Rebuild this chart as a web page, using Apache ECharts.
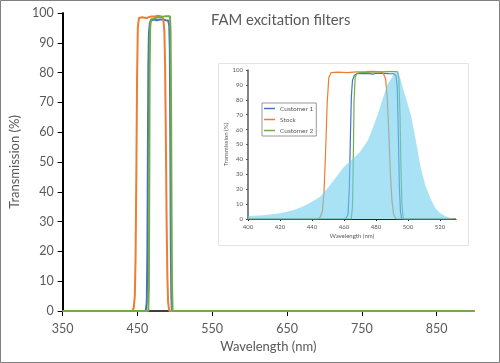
<!DOCTYPE html>
<html><head><meta charset="utf-8">
<script src="https://cdn.jsdelivr.net/npm/echarts@6/dist/echarts.min.js"></script>
<style>html,body{margin:0;padding:0;background:#fff}#c{width:500px;height:363px}</style>
</head><body><div id="c"></div>
<script>
// ---- data ----
const titleText = 'FAM excitation filters';
const seriesNames = ['Customer 1', 'Stock', 'Customer 2'];

const cust1Wl = [350, 461, 462.5, 463.3, 464, 464.6, 465.3, 466.5, 468, 472, 476, 478, 480, 484, 488, 491, 492.5, 493.3, 494, 494.6, 495.3, 496, 900];
const cust1T  = [0,   0,   3,     20,    55,  82,    93,    96.5,  97.5, 97.8, 97.6, 97.2, 97.8, 97.8, 97.6, 97.5, 96,  88,    55,  22,    5,     0,   0];

const stockWl = [350, 443, 445, 446.5, 447.5, 448.5, 449.5, 450.5, 452, 456, 462, 468, 474, 478, 482, 484.5, 486, 487, 488, 489, 490, 491, 492.5, 900];
const stockT  = [0,   0,   1,   5,     18,    45,    78,    95,    98.3, 98.6, 98.3, 98.8, 98.9, 99.1, 98.8, 98, 94, 82, 58, 30, 12, 3, 0, 0];

const cust2Wl = [350, 464.5, 465.3, 465.8, 466.3, 467, 468, 470, 476, 482, 488, 493.5, 494.3, 495, 495.6, 496.2, 497, 900];
const cust2T  = [0,   0,     8,     40,    80,    95,  97.8, 98.3, 98.5, 98.7, 98.9, 98.9, 94, 70, 35, 10, 0, 0];

const famWl  = [400, 410, 420, 425, 430, 435, 440, 445, 450, 455, 460, 465, 470, 475, 478, 481, 484, 487, 490, 492, 493.5, 495, 497, 499, 502, 505, 508, 511, 514, 517, 520, 523, 526, 529];
const famExc = [2,   2.6, 3.8, 5,   6.5, 8.7, 11.5, 15, 21,  28,  35,  40,  45,  53,  61,  70,  80,  90,  95,  99,  99.5,  95,  87,  80,  69,  52,  34,  22,  14,  7.3, 4,   2,   0.8, 0];

const mainXTicks  = [350, 450, 550, 650, 750, 850];
const insetXTicks = [400, 420, 440, 460, 480, 500, 520];

// ---- build ----
const pairs = (xs, ys) => xs.map((x, i) => [x, ys[i]]);
const colors = ['#4472C4', '#ED7D31', '#70AD47'];
const curves = [pairs(cust1Wl, cust1T), pairs(stockWl, stockT), pairs(cust2Wl, cust2T)];
const FONT = 'Lato';
const GREY = '#595959';

const chart = echarts.init(document.getElementById('c'), null, {renderer: 'canvas'});

const series = [];
curves.forEach((d, i) => {
  series.push({
    type: 'line', name: seriesNames[i], xAxisIndex: 0, yAxisIndex: 0, data: d,
    showSymbol: false, symbol: 'none', color: colors[i],
    lineStyle: {width: 2, color: colors[i]}, z: 3, animation: false
  });
});
curves.forEach((d, i) => {
  const inset = [[400, 0]].concat(d.filter(p => p[0] > 400 && p[0] < 530)).concat([[530, 0]]);
  series.push({
    type: 'line', name: seriesNames[i], xAxisIndex: 1, yAxisIndex: 1, data: inset,
    showSymbol: false, symbol: 'none', color: colors[i],
    lineStyle: {width: 1.2, color: colors[i]}, z: 5, animation: false
  });
});
series.push({
  type: 'line', name: 'FAM excitation', xAxisIndex: 1, yAxisIndex: 1,
  data: pairs(famWl, famExc), showSymbol: false, symbol: 'none',
  lineStyle: {width: 0}, areaStyle: {color: '#6fcdef', opacity: 0.6},
  z: 6, animation: false
});

chart.setOption({
  animation: false,
  title: {
    text: titleText, left: 206, top: 8,
    textStyle: {fontFamily: FONT, fontSize: 14.8, fontWeight: 'normal', color: GREY}
  },
  graphic: [
    {type: 'rect', shape: {x: 0.5, y: 0.5, width: 499, height: 362}, style: {fill: 'none', stroke: '#7f7f7f', lineWidth: 1}, z: 0},
    {type: 'rect', shape: {x: 218.5, y: 63.5, width: 250, height: 182}, style: {fill: '#fff', stroke: '#e3e3e3', lineWidth: 1}, z: 1}
  ],
  legend: {
    data: seriesNames, orient: 'vertical', left: 262, top: 103,
    icon: 'rect', itemWidth: 11, itemHeight: 1.5, itemGap: 4, itemTextGap: 2,
    padding: [2, 3, 2, 2], borderColor: '#7f7f7f', borderWidth: 0.8, backgroundColor: '#fff',
    textStyle: {fontFamily: FONT, fontSize: 6.5, color: GREY}, selectedMode: false, z: 10
  },
  grid: [
    {left: 60, right: 26, top: 13, bottom: 52},
    {left: 248, top: 70, width: 208, height: 149}
  ],
  xAxis: [
    {
      gridIndex: 0, type: 'value', min: 350, max: 900, interval: 100,
      name: 'Wavelength (nm)', nameLocation: 'middle', nameGap: 28,
      nameTextStyle: {fontFamily: FONT, fontSize: 13, color: GREY},
      axisLine: {lineStyle: {color: '#000', width: 1.5}},
      axisTick: {show: true, length: 5, lineStyle: {color: '#000'}, customValues: mainXTicks},
      axisLabel: {fontFamily: FONT, fontSize: 12.5, color: GREY, margin: 11, customValues: mainXTicks},
      splitLine: {show: false}
    },
    {
      gridIndex: 1, type: 'value', min: 400, max: 530, interval: 20, z: 4,
      name: 'Wavelength (nm)', nameLocation: 'middle', nameGap: 14,
      nameTextStyle: {fontFamily: FONT, fontSize: 6, color: GREY},
      axisLine: {lineStyle: {color: '#262626', width: 1}},
      axisTick: {show: true, length: 2, lineStyle: {color: '#262626'}, customValues: insetXTicks},
      axisLabel: {fontFamily: FONT, fontSize: 6, color: GREY, margin: 5, customValues: insetXTicks},
      splitLine: {show: false}
    }
  ],
  yAxis: [
    {
      gridIndex: 0, type: 'value', min: 0, max: 100, interval: 10,
      name: 'Transmission (%)', nameLocation: 'middle', nameGap: 31,
      nameTextStyle: {fontFamily: FONT, fontSize: 13, color: GREY},
      axisLine: {show: true, lineStyle: {color: '#000', width: 2}},
      axisTick: {show: true, length: 5, lineStyle: {color: '#000'}},
      axisLabel: {fontFamily: FONT, fontSize: 12.5, color: GREY, margin: 9},
      splitLine: {show: false}
    },
    {
      gridIndex: 1, type: 'value', min: 0, max: 100, interval: 10, z: 4,
      name: 'Transmission (%)', nameLocation: 'middle', nameGap: 17,
      nameTextStyle: {fontFamily: FONT, fontSize: 6, color: GREY},
      axisLine: {show: true, lineStyle: {color: '#595959', width: 1.5}},
      axisTick: {show: true, length: 2, lineStyle: {color: '#595959'}},
      axisLabel: {fontFamily: FONT, fontSize: 6, color: GREY, margin: 5},
      splitLine: {show: false}
    }
  ],
  series: series
});
</script>
</body></html>
